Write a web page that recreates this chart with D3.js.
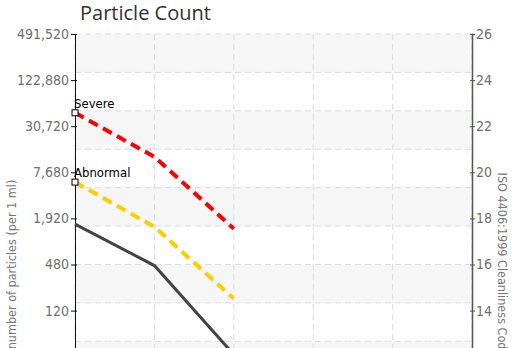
<!DOCTYPE html>
<html>
<head>
<meta charset="utf-8">
<script src="https://cdn.jsdelivr.net/npm/d3@7"></script>
<style>
  body { margin: 0; background: #fff; overflow: hidden; }
  svg { display: block; }
  .tick text { font-family: "Liberation Sans Narrow", "DejaVu Sans Condensed", "Roboto", sans-serif; font-size: 14px; fill: #707070; }
  .grid line { stroke: #dcdcdc; stroke-dasharray: 6,4; }
  .ttl { font-family: "Open Sans", sans-serif; font-size: 20px; fill: #333; }
  .axttl { font-family: "Liberation Sans Narrow", "DejaVu Sans Condensed", "Roboto", sans-serif; font-size: 12.5px; fill: #777; }
  .lbl { font-family: "Liberation Sans Narrow", "DejaVu Sans Condensed", "Roboto", sans-serif; font-size: 13px; fill: #000; }
</style>
</head>
<body>
<svg id="chart"></svg>
<script>
// particle sizes (x categories)
var sizes = ["4 µm", "6 µm", "14 µm", "21 µm", "38 µm", "70 µm"];

// counts per 1 ml
var severe   = [46000, 12250, 1410];
var abnormal = [5720, 1490, 172];
var sample   = [1620, 465, 32];

var countTicks = [491520, 122880, 30720, 7680, 1920, 480, 120, 30, 7.5, 1.875];
var isoTicks = [26, 24, 22, 20, 18, 16, 14, 12, 10, 8, 6];
var countDomain = [0.46875, 491520];
var isoDomain = [6, 26];

var W = 516, H = 348;
var margin = {top: 34, left: 75, right: 44};
var plotH = 461;

var svg = d3.select("#chart").attr("width", W).attr("height", H);

var x = d3.scalePoint().domain(sizes).range([margin.left, W - margin.right]);
var y = d3.scaleLog().base(2).domain(countDomain).range([margin.top + plotH, margin.top]);
var yIso = d3.scaleLinear().domain(isoDomain).range([margin.top + plotH, margin.top]);
var gridY = d3.scaleLinear().domain([0, 12]).range([margin.top + plotH, margin.top]);

// alternating bands
var bands = d3.range(0, 12, 2);
svg.append("g").selectAll("rect")
  .data(bands)
  .enter().append("rect")
  .attr("x", margin.left)
  .attr("width", W - margin.right - margin.left)
  .attr("y", function(d) { return gridY(12 - d); })
  .attr("height", function(d) { return gridY(11 - d) - gridY(12 - d); })
  .style("fill", "#f6f6f6");

// grid
var grid = svg.append("g").attr("class", "grid");
grid.selectAll(".h").data(d3.range(0, 13)).enter().append("line")
  .attr("x1", margin.left).attr("x2", W - margin.right)
  .attr("y1", function(d) { return gridY(d); }).attr("y2", function(d) { return gridY(d); });
grid.selectAll(".v").data(sizes).enter().append("line")
  .attr("x1", function(d) { return x(d); }).attr("x2", function(d) { return x(d); })
  .attr("y1", margin.top).attr("y2", margin.top + plotH);

// axes
var left = svg.append("g")
  .attr("transform", "translate(" + margin.left + ",0)")
  .call(d3.axisLeft(y).tickValues(countTicks).tickFormat(d3.format(",")).tickSize(4).tickPadding(2));
left.select(".domain").style("stroke", "#111");
left.selectAll(".tick line").attr("x1", 2).style("stroke", "#111");

var right = svg.append("g")
  .attr("transform", "translate(" + (W - margin.right) + ",0)")
  .call(d3.axisRight(yIso).tickValues(isoTicks).tickSize(3).tickPadding(1));
right.select(".domain").style("stroke", "#555").style("stroke-width", 1.5);
right.selectAll(".tick line").attr("x1", -2).style("stroke", "#555");

// lines
var line = d3.line()
  .x(function(d, i) { return x(sizes[i]); })
  .y(function(d) { return y(d); });

svg.append("path").datum(sample)
  .attr("d", line)
  .style("fill", "none").style("stroke", "#444").style("stroke-width", 3);
svg.append("path").datum(abnormal)
  .attr("d", line)
  .style("fill", "none").style("stroke", "#ffcc00").style("stroke-width", 4)
  .style("stroke-dasharray", "10,6");
svg.append("path").datum(severe)
  .attr("d", line)
  .style("fill", "none").style("stroke", "#ff0000").style("stroke-width", 4)
  .style("stroke-dasharray", "10,6");

// limit labels
var limits = [{name: "Severe", v: severe[0]}, {name: "Abnormal", v: abnormal[0]}];
svg.selectAll(".mk").data(limits).enter().append("rect")
  .attr("x", x(sizes[0]) - 3).attr("y", function(d) { return y(d.v) - 3; })
  .attr("width", 6).attr("height", 6)
  .style("fill", "#fff").style("stroke", "#000").style("stroke-width", 1);
svg.selectAll(".lbl").data(limits).enter().append("text")
  .attr("class", "lbl")
  .attr("x", x(sizes[0]) - 1).attr("y", function(d) { return y(d.v) - 5; })
  .text(function(d) { return d.name; });

// titles
svg.append("text").attr("class", "ttl").attr("x", 80).attr("y", 20).text("Particle Count");

var midY = margin.top + plotH / 2;
svg.append("text").attr("class", "axttl")
  .attr("transform", "translate(16," + midY + ") rotate(-90)")
  .attr("text-anchor", "middle")
  .text("number of particles (per 1 ml)");
svg.append("text").attr("class", "axttl")
  .attr("transform", "translate(498," + midY + ") rotate(90)")
  .attr("text-anchor", "middle")
  .text("ISO 4406:1999 Cleanliness Code");
</script>
</body>
</html>
